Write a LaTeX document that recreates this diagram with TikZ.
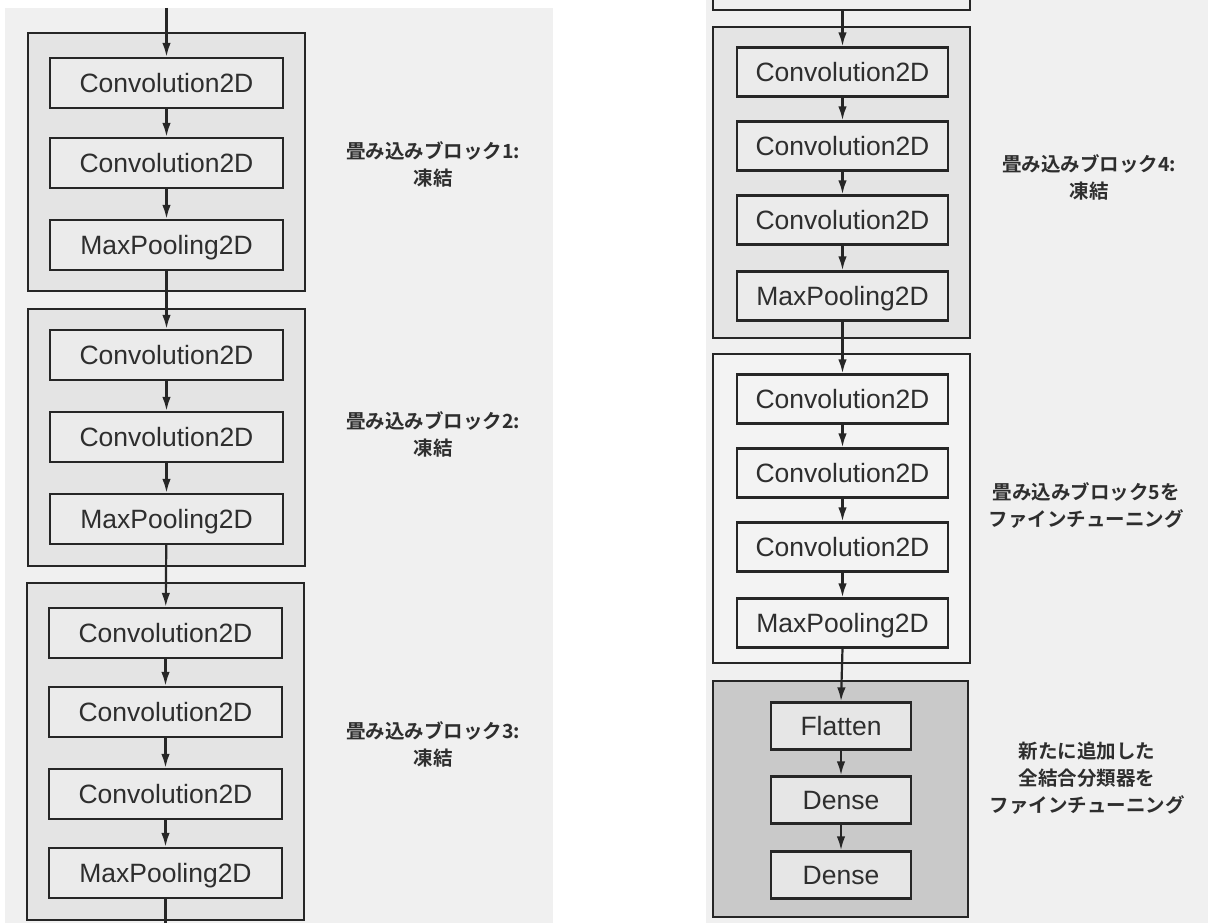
\documentclass[tikz,border=0pt]{standalone}
\usepackage{fontspec}
\setmainfont{Liberation Sans}
\newfontfamily\jp{Noto Sans CJK JP}[BoldFont={Noto Sans CJK JP Bold}]
\usetikzlibrary{arrows.meta}
\definecolor{pagebg}{HTML}{F0F0F0}
\definecolor{frozen}{HTML}{E4E4E4}
\definecolor{boxfill}{HTML}{EBEBEB}
\definecolor{tuned}{HTML}{F3F3F3}
\definecolor{clsfill}{HTML}{C9C9C9}
\definecolor{clsbox}{HTML}{E6E6E6}
\definecolor{ink}{HTML}{262626}
\definecolor{txt}{HTML}{2E2E2E}
\begin{document}
\begin{tikzpicture}[x=1pt,y=-1pt,
  blockbox/.style={draw=ink,line width=2.3pt,fill=frozen,inner sep=0pt},
  layerL/.style={draw=ink,line width=2.3pt,fill=boxfill,inner sep=0pt,
     minimum width=233pt,minimum height=50pt,text=txt,
     font=\fontsize{26.5}{30}\selectfont,text height=19pt,text depth=0pt},
  layerR/.style={layerL,minimum width=211pt,minimum height=49pt},
  layerC/.style={layerL,minimum width=140pt,minimum height=47pt,fill=clsbox},
  lab/.style={text=txt,align=center,font=\jp\bfseries\fontsize{19.5}{27}\selectfont},
  arr/.style={draw=ink,line width=2.2pt,-{Latex[length=14pt,width=8.5pt]}},
  link/.style={draw=ink,line width=2.2pt}
]
\useasboundingbox (0,0) rectangle (1208,923);
\fill[white] (0,0) rectangle (1208,923);
\fill[pagebg] (5,8) rectangle (553,923);
\fill[pagebg] (706,0) rectangle (1208,923);

% ---------- left column ----------
\node[blockbox,minimum width=277pt,minimum height=258pt] (blk1) at (166.5,162) {};
\node[blockbox,minimum width=277pt,minimum height=257pt] (blk2) at (166.5,437.5) {};
\node[blockbox,minimum width=277pt,minimum height=337pt] (blk3) at (165.5,751.5) {};

\node[layerL] (a1) at (166.5,83) {Convolution2D};
\node[layerL] (a2) at (166.5,163) {Convolution2D};
\node[layerL] (a3) at (166.5,245) {MaxPooling2D};

\node[layerL] (b1) at (166.5,355) {Convolution2D};
\node[layerL] (b2) at (166.5,437) {Convolution2D};
\node[layerL] (b3) at (166.5,519) {MaxPooling2D};

\node[layerL] (c1) at (165.5,633) {Convolution2D};
\node[layerL] (c2) at (165.5,712) {Convolution2D};
\node[layerL] (c3) at (165.5,794) {Convolution2D};
\node[layerL] (c4) at (165.5,873) {MaxPooling2D};

\coordinate (topL) at (166.5,8);
\coordinate (botL) at (165.5,923);
\draw[arr] (topL) -- (a1.north);
\draw[arr] (a1) -- (a2);
\draw[arr] (a2) -- (a3);
\draw[arr] (a3) -- (b1);
\draw[arr] (b1) -- (b2);
\draw[arr] (b2) -- (b3);
\draw[arr] (b3) -- (c1);
\draw[arr] (c1) -- (c2);
\draw[arr] (c2) -- (c3);
\draw[arr] (c3) -- (c4);
\draw[link] (c4.south) -- (botL);

\node[lab] (la1) at (433,164) {畳み込みブロック1:\\凍結};
\node[lab] (la2) at (433,434) {畳み込みブロック2:\\凍結};
\node[lab] (la3) at (433,744) {畳み込みブロック3:\\凍結};

% ---------- right column ----------
\draw[ink,line width=2.3pt] (713,0) -- (713,10) -- (970,10) -- (970,0);

\node[blockbox,minimum width=257pt,minimum height=311pt] (blk4) at (841.5,182.5) {};
\node[blockbox,minimum width=257pt,minimum height=309pt,fill=tuned] (blk5) at (841.5,508.5) {};
\node[blockbox,minimum width=255pt,minimum height=236pt,fill=clsfill] (blk6) at (840.5,799) {};

\node[layerR] (d1) at (842.5,72) {Convolution2D};
\node[layerR] (d2) at (842.5,146) {Convolution2D};
\node[layerR] (d3) at (842.5,220) {Convolution2D};
\node[layerR] (d4) at (842.5,296) {MaxPooling2D};

\node[layerR,fill=tuned] (e1) at (842.5,399) {Convolution2D};
\node[layerR,fill=tuned] (e2) at (842.5,473) {Convolution2D};
\node[layerR,fill=tuned] (e3) at (842.5,547) {Convolution2D};
\node[layerR,fill=tuned] (e4) at (842.5,623) {MaxPooling2D};

\node[layerC] (f1) at (841,726) {Flatten};
\node[layerC] (f2) at (841,800) {Dense};
\node[layerC] (f3) at (841,875) {Dense};

\coordinate (topR) at (842.5,10);
\draw[arr] (topR) -- (d1.north);
\draw[arr] (d1) -- (d2);
\draw[arr] (d2) -- (d3);
\draw[arr] (d3) -- (d4);
\draw[arr] (d4) -- (e1);
\draw[arr] (e1) -- (e2);
\draw[arr] (e2) -- (e3);
\draw[arr] (e3) -- (e4);
\draw[arr] (e4.south) -- (f1.north);
\draw[arr] (f1) -- (f2);
\draw[arr] (f2) -- (f3);

\node[lab] (lb1) at (1089,177) {畳み込みブロック4:\\凍結};
\node[lab] (lb2) at (1086,505) {畳み込みブロック5を\\ファインチューニング};
\node[lab] (lb3) at (1087,778) {新たに追加した\\全結合分類器を\\ファインチューニング};
\end{tikzpicture}
\end{document}
